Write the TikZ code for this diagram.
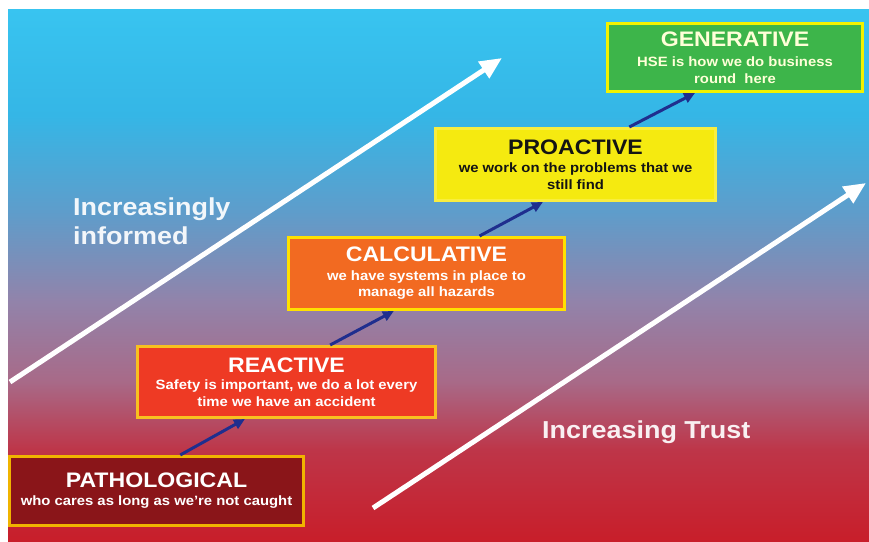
\documentclass[tikz,border=0pt]{standalone}
\usepackage{fontspec}
\setmainfont{Liberation Sans}[FakeStretch=1.1]
\usetikzlibrary{arrows.meta,calc}

\definecolor{bgA}{HTML}{38C4F0}
\definecolor{bgA2}{HTML}{35B6E6}
\definecolor{bgB}{HTML}{5E9DCB}
\definecolor{bgB2}{HTML}{9283AA}
\definecolor{bgC}{HTML}{A86A88}
\definecolor{bgD}{HTML}{BE3548}
\definecolor{bgE}{HTML}{C81E2A}

% background colour ramp: cyan at the top, mauve in the middle, red at the bottom
\pgfdeclareverticalshading{skyfire}{100bp}{%
  color(0bp)=(bgE);
  color(25bp)=(bgE);
  color(33.5bp)=(bgD);
  color(40bp)=(bgC);
  color(47.5bp)=(bgB2);
  color(56bp)=(bgB);
  color(65bp)=(bgA2);
  color(75bp)=(bgA);
  color(100bp)=(bgA)}

\definecolor{pathfill}{HTML}{8A1519}
\definecolor{pathedge}{HTML}{F0B400}
\definecolor{reactfill}{HTML}{EE3A24}
\definecolor{reactedge}{HTML}{F8C020}
\definecolor{calcfill}{HTML}{F26A21}
\definecolor{calcedge}{HTML}{FFE100}
\definecolor{proafill}{HTML}{F5EA10}
\definecolor{proaedge}{HTML}{F8EE40}
\definecolor{genfill}{HTML}{3DB54A}
\definecolor{genedge}{HTML}{F2F200}
\definecolor{stepblue}{HTML}{1F2E8E}
\definecolor{paletext}{HTML}{FFFFD8}

\newcommand{\ttlsize}{\fontsize{21}{24}\selectfont}

\begin{document}
\begin{tikzpicture}[x=1pt,y=-1pt,
  stagebox/.style={draw, line width=3pt, align=center, inner sep=0pt,
    text=white, font=\fontsize{13.5}{16.5}\selectfont\bfseries},
  climb/.style={stepblue, line width=3pt, -{Triangle[length=11pt,width=10pt]}},
  trend/.style={white, line width=5pt, -{Triangle[length=22pt,width=19pt]}},
  biglabel/.style={text=white, text opacity=0.92, inner sep=0pt, align=left,
    font=\fontsize{24.5}{29}\selectfont\bfseries}]

\useasboundingbox (0,0) rectangle (869,541);
\shade[shading=skyfire] (8,9) rectangle (869,541);

% the two long trend arrows
\coordinate (infoTail) at (10,382);
\coordinate (infoTip) at (502,58);
\coordinate (trustTail) at (373,508);
\coordinate (trustTip) at (866,183);
\draw[trend] (infoTail) -- (infoTip);
\draw[trend] (trustTail) -- (trustTip);

\node[biglabel, anchor=north west] (informed) at (73,198)
  {Increasingly\\informed};
\node[biglabel, anchor=north west] (trust) at (542,421)
  {Increasing Trust};

% the five culture stages
\node[stagebox, fill=pathfill, draw=pathedge,
  minimum width=294pt, minimum height=69pt] (path) at (156.5,491)
  {{\ttlsize PATHOLOGICAL}\\[1.5pt]who cares as long as we're not caught};

\node[stagebox, fill=reactfill, draw=reactedge,
  minimum width=298pt, minimum height=71pt] (react) at (286.5,382)
  {{\ttlsize REACTIVE}\\[1pt]Safety is important, we do a lot every\\time we have an accident};

\node[stagebox, fill=calcfill, draw=calcedge,
  minimum width=276pt, minimum height=72pt] (calc) at (426.5,273.5)
  {{\ttlsize CALCULATIVE}\\[2pt]we have systems in place to\\manage all hazards};

\node[stagebox, fill=proafill, draw=proaedge, text=black!92,
  minimum width=280pt, minimum height=72pt] (proa) at (575.5,164.5)
  {{\ttlsize PROACTIVE}\\[1.5pt]we work on the problems that we\\still find};

\node[stagebox, fill=genfill, draw=genedge, text=paletext,
  minimum width=255pt, minimum height=68pt] (gen) at (735,57.5)
  {{\ttlsize GENERATIVE}\\[4pt]HSE is how we do business\\round\ \ here};

% small arrows stepping up from one stage to the next
\draw[climb] ($(path.north west)!0.58!(path.north east)$) -- ($(react.south west)!0.362!(react.south east)$);
\draw[climb] ($(react.north west)!0.645!(react.north east)$) -- ($(calc.south west)!0.383!(calc.south east)$);
\draw[climb] ($(calc.north west)!0.69!(calc.north east)$) -- ($(proa.south west)!0.385!(proa.south east)$);
\draw[climb] ($(proa.north west)!0.69!(proa.north east)$) -- ($(gen.south west)!0.345!(gen.south east)$);

\end{tikzpicture}
\end{document}
